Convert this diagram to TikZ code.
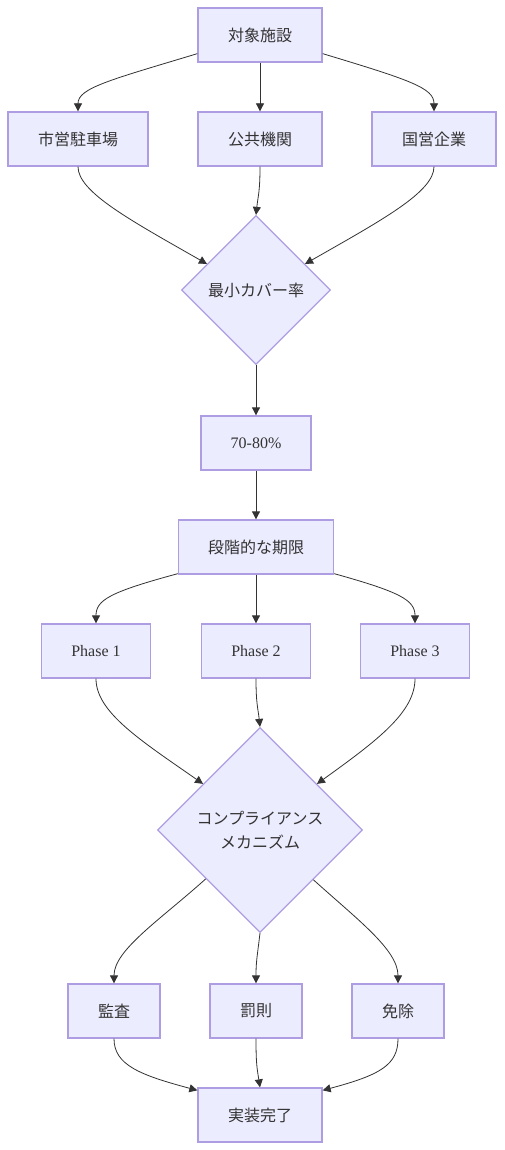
\documentclass[tikz,border=0pt]{standalone}
\usepackage{fontspec}
\setmainfont{Liberation Serif}
\newfontfamily\cjk{Noto Sans CJK JP}
\usetikzlibrary{shapes.geometric,arrows.meta}
\definecolor{nodefill}{HTML}{ECECFF}
\definecolor{nodeline}{HTML}{AE9DE2}
\definecolor{txt}{HTML}{333333}
\begin{document}
\begin{tikzpicture}[x=1pt,y=-1pt,
  box/.style={draw=nodeline, fill=nodefill, line width=1.3pt, minimum height=54pt, inner sep=0pt, text=txt, font=\fontsize{16}{24}\selectfont},
  dia/.style={diamond, aspect=1, draw=nodeline, fill=nodefill, line width=1.2pt, inner sep=0pt, text=txt, align=center, font=\fontsize{16}{24}\selectfont},
  edge/.style={draw=txt, line width=0.8pt, -{Triangle[length=8pt,width=8pt]}}]
\useasboundingbox (0,0) rectangle (504,1150);
\fill[white] (0,0) rectangle (504,1150);
% nodes
\node[box, minimum width=124pt] (top) at (260,35) {\cjk 対象施設};
\node[box, minimum width=140pt] (m1) at (78,139) {\cjk 市営駐車場};
\node[box, minimum width=124pt] (m2) at (260,139) {\cjk 公共機関};
\node[box, minimum width=124pt] (m3) at (434,139) {\cjk 国営企業};
\node[dia, minimum width=149pt, minimum height=149pt] (d1) at (256,290) {\cjk 最小カバー率};
\node[box, minimum width=110pt] (pct) at (256,443) {70-80\%};
\node[box, minimum width=155pt] (stage) at (256,547) {\cjk 段階的な期限};
\node[box, minimum width=109pt] (p1) at (96,651) {Phase 1};
\node[box, minimum width=109pt] (p2) at (256,651) {Phase 2};
\node[box, minimum width=109pt] (p3) at (415,651) {Phase 3};
\node[dia, minimum width=205pt, minimum height=205pt] (d2) at (260,830) {\cjk コンプライアンス\\\cjk メカニズム};
\node[box, minimum width=92pt] (audit) at (114,1011) {\cjk 監査};
\node[box, minimum width=92pt] (pen) at (256,1011) {\cjk 罰則};
\node[box, minimum width=92pt] (exm) at (398,1011) {\cjk 免除};
\node[box, minimum width=124pt] (done) at (260,1115) {\cjk 実装完了};
% edges
\draw[edge] ([yshift=9pt]top.south west) .. controls (110,80) and (78,88) .. (m1.north);
\draw[edge] (top.south) -- (m2.north);
\draw[edge] ([yshift=9pt]top.south east) .. controls (410,80) and (434,88) .. (m3.north);
\draw[edge] (m1.south) .. controls (78,192) and (130,220) .. (d1.152);
\draw[edge] (m2.south) .. controls (260,192) and (258,196) .. (d1.north);
\draw[edge] (m3.south) .. controls (434,192) and (382,220) .. (d1.28);
\draw[edge] (d1.south) -- (pct.north);
\draw[edge] (pct.south) -- (stage.north);
\draw[edge] ([yshift=1pt]stage.south west) .. controls (110,592) and (96,600) .. (p1.north);
\draw[edge] (stage.south) -- (p2.north);
\draw[edge] ([yshift=1pt]stage.south east) .. controls (400,592) and (415,600) .. (p3.north);
\draw[edge] (p1.south) .. controls (96,712) and (140,740) .. (d2.141);
\draw[edge] (p2.south) .. controls (256,704) and (258,708) .. (d2.north);
\draw[edge] (p3.south) .. controls (415,712) and (378,740) .. (d2.39.5);
\draw[edge] (d2.-138) .. controls (160,920) and (114,950) .. (audit.north);
\draw[edge] (d2.south) .. controls (257,958) and (256,962) .. (pen.north);
\draw[edge] (d2.-43) .. controls (358,920) and (398,950) .. (exm.north);
\draw[edge] (audit.south) .. controls (114,1065) and (140,1075) .. ([yshift=-3pt]done.north west);
\draw[edge] (pen.south) .. controls (256,1064) and (257,1068) .. (done.north);
\draw[edge] (exm.south) .. controls (398,1065) and (380,1075) .. ([yshift=-3pt]done.north east);
\end{tikzpicture}
\end{document}
